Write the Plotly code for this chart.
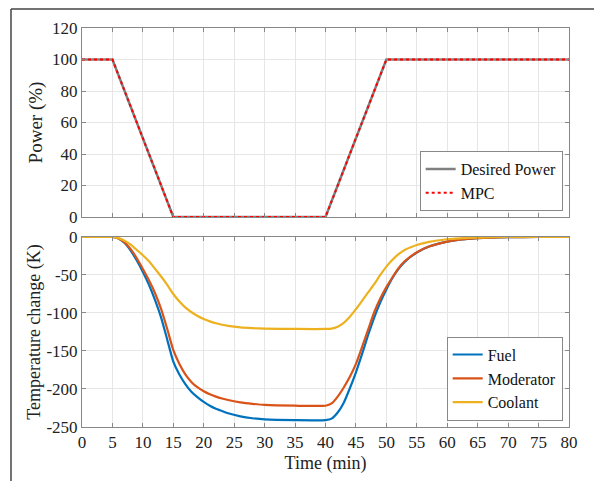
import plotly.graph_objects as go

# ---------------- data ----------------
power_t = [0, 5, 15, 40, 50, 80]
desired_power = [100, 100, 0, 0, 100, 100]
mpc_power = [100, 100, 0, 0, 100, 100]

time = [0, 5, 6, 7, 8, 9, 10, 11, 12, 13, 14, 15, 16, 17, 18, 19, 20, 21, 22, 23, 24, 26, 28, 30, 35, 40,
        41, 42, 43, 44, 45, 46, 47, 48, 49, 50, 51, 52, 53, 54, 55, 57, 60, 62, 65, 70, 75, 80]
fuel = [0, 0, -2, -8, -18, -31, -46, -63, -83, -106, -135, -164, -181, -194, -204, -211, -217, -222, -226, -229, -232, -236, -238.5, -240, -241, -241,
        -239, -231, -218, -199, -178, -154, -129, -106, -86, -69, -54, -42, -33, -26, -20.5, -12.5, -6, -3.5, -1.5, -0.3, 0, 0]
moderator = [0, 0, -2, -7, -16, -28, -42, -57, -74, -95, -121, -149, -167, -181, -191, -198, -203, -207, -210, -212.5, -214.5, -217.5, -219.5, -221, -222, -222,
             -219, -210, -198, -184, -167, -145, -122, -99, -81, -66, -53, -41, -32, -25.5, -20, -12.5, -6, -3.5, -1.5, -0.3, 0, 0]
coolant = [0, 0, -1.5, -5, -10, -17, -24, -32, -42, -52, -63, -75, -85, -93, -99, -104, -108, -111, -113.5, -115.5, -117, -119, -120, -120.5, -121, -121,
           -120.5, -118, -113, -105, -95, -84, -73, -62, -50, -39, -30, -22.5, -17, -13.5, -10.5, -6.5, -3, -1.7, -0.7, 0, 0, 0]

x_ticks = list(range(0, 85, 5))
x_ticktext = [str(v) for v in x_ticks]
p_ticks = [0, 20, 40, 60, 80, 100, 120]
p_ticktext = [str(v) for v in p_ticks]
t_ticks = [-250, -200, -150, -100, -50, 0]
t_ticktext = ["-250", "-200", "-150", "-100", "-50", "0"]

# ---------------- figure ----------------
FONT = "'Liberation Serif', 'Times New Roman', 'DejaVu Serif', serif"
fig = go.Figure()

fig.add_trace(go.Scatter(x=power_t, y=desired_power, mode="lines", name="Desired Power",
                         line=dict(color="#808080", width=2.5), xaxis="x", yaxis="y", legend="legend"))
fig.add_trace(go.Scatter(x=power_t, y=mpc_power, mode="lines", name="MPC",
                         line=dict(color="#FF0000", width=2, dash="dot"), xaxis="x", yaxis="y", legend="legend"))

for name, vals, col in [("Fuel", fuel, "#0072BD"), ("Moderator", moderator, "#D95319"), ("Coolant", coolant, "#EDB120")]:
    fig.add_trace(go.Scatter(x=time, y=vals, mode="lines", name=name,
                             line=dict(color=col, width=2.2, shape="spline", smoothing=0.5),
                             xaxis="x2", yaxis="y2", legend="legend2"))

axis_common = dict(showline=True, linecolor="#888888", linewidth=1, mirror="ticks",
                   ticks="inside", ticklen=4, tickcolor="#888888",
                   showgrid=True, gridcolor="#e6e6e6", gridwidth=1, zeroline=False,
                   tickfont=dict(family=FONT, size=17, color="#222222"))

top_dom = [0.5263, 1.0]
bot_dom = [0.0, 0.4762]

fig.update_layout(
    width=594, height=481,
    margin=dict(l=82, r=25, t=28, b=54),
    paper_bgcolor="white", plot_bgcolor="white",
    font=dict(family=FONT, size=17, color="#222222"),
    showlegend=True,
    xaxis=dict(axis_common, domain=[0, 1], range=[0, 80], tickvals=x_ticks, ticktext=x_ticktext,
               showticklabels=False, anchor="y"),
    yaxis=dict(axis_common, domain=top_dom, range=[0, 120], tickvals=p_ticks, ticktext=p_ticktext,
               anchor="x", title=dict(text="Power (%)", font=dict(family=FONT, size=19), standoff=4)),
    xaxis2=dict(axis_common, domain=[0, 1], range=[0, 80], tickvals=x_ticks, ticktext=x_ticktext,
                anchor="y2", title=dict(text="Time (min)", font=dict(family=FONT, size=18), standoff=4)),
    yaxis2=dict(axis_common, domain=bot_dom, range=[-250, 0], tickvals=t_ticks, ticktext=t_ticktext,
                anchor="x2", title=dict(text="Temperature change (K)", font=dict(family=FONT, size=18), standoff=1)),
    legend=dict(x=0.987, y=0.541, xanchor="right", yanchor="bottom",
                bgcolor="white", bordercolor="#888888", borderwidth=1,
                font=dict(family=FONT, size=16, color="#111111"), tracegroupgap=0),
    legend2=dict(x=0.987, y=0.016, xanchor="right", yanchor="bottom",
                 bgcolor="white", bordercolor="#888888", borderwidth=1,
                 font=dict(family=FONT, size=16, color="#111111"), tracegroupgap=0),
)

# outer figure frame (partial, as in the reference crop)
fig.add_shape(type="line", xref="paper", yref="paper", x0=-0.1458, x1=-0.1458, y0=-0.14, y1=1.0476,
              line=dict(color="#444444", width=1.5))
fig.add_shape(type="line", xref="paper", yref="paper", x0=-0.1458, x1=1.06, y0=1.0476, y1=1.0476,
              line=dict(color="#444444", width=1.5))

fig.write_html("out.html")
